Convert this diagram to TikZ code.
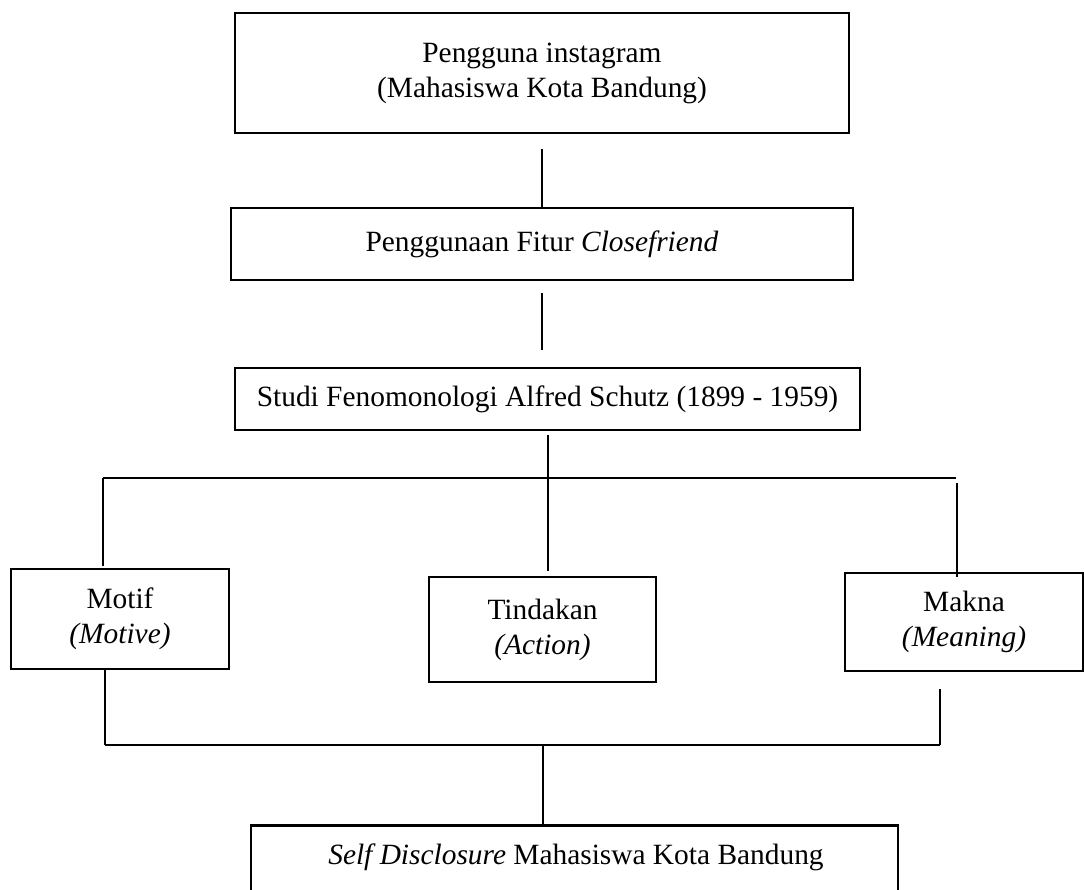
\documentclass[tikz,border=0pt]{standalone}
\usepackage{fontspec}
\setmainfont{Liberation Serif}
\begin{document}
\begin{tikzpicture}[x=1pt,y=-1pt,
  box/.style={draw, line width=2.5pt, inner sep=0pt, align=center, font=\fontsize{29.4}{35}\selectfont},
  txt/.style={inner sep=0pt, align=center, font=\fontsize{29.4}{35}\selectfont},
  conn/.style={line width=1.2pt}]
\useasboundingbox (0,0) rectangle (1084,890);
\clip (0,0) rectangle (1084,890);
% boxes
\node[box, minimum width=614pt, minimum height=120pt] (b1) at (542,73) {Pengguna instagram\\(Mahasiswa Kota Bandung)};
\node[box, minimum width=622pt, minimum height=72pt] (b2) at (542,244) {Penggunaan Fitur \textit{Closefriend}};
\node[box, minimum width=625pt, minimum height=62pt] (b3) at (547.5,399) {Studi Fenomonologi Alfred Schutz (1899 - 1959)};
\node[box, minimum width=218pt, minimum height=100pt] (motif) at (120,619) {Motif\\\textit{(Motive)}};
\node[box, minimum width=227pt, minimum height=105pt] (tind) at (542.5,629.5) {Tindakan\\\textit{(Action)}};
\node[box, minimum width=238pt, minimum height=98pt] (makna) at (964,622) {Makna\\\textit{(Meaning)}};
\node[box, minimum width=647pt, minimum height=100pt, anchor=north] (b6) at (574.5,824) {};
\node[txt] (b6t) at (576,857) {\textit{Self Disclosure} Mahasiswa Kota Bandung};
% connectors
\coordinate (c1) at (542,149);
\draw[conn] (c1) -- (c1 |- b2.north);
\coordinate (c2a) at (542,293);
\coordinate (c2b) at (542,350);
\draw[conn] (c2a) -- (c2b);
\coordinate (c3a) at (548,435);
\coordinate (c3b) at (548,571);
\draw[conn] (c3a) -- (c3b);
\coordinate (hl) at (103,478);
\coordinate (hr) at (956,478);
\draw[conn] (hl) -- (hr);
\coordinate (lv) at (103,566);
\draw[conn] (hl) -- (lv);
\coordinate (rva) at (957,483);
\coordinate (rvb) at (957,577);
\draw[conn] (rva) -- (rvb);
\coordinate (ml) at (105,745);
\coordinate (mr) at (940,745);
\coordinate (mka) at (940,689);
\draw[conn] (motif.south -| ml) -- (ml);
\draw[conn] (mka) -- (mr);
\draw[conn] (ml) -- (mr);
\coordinate (bv) at (543,745);
\draw[conn] (bv) -- (bv |- b6.north);
\end{tikzpicture}
\end{document}
